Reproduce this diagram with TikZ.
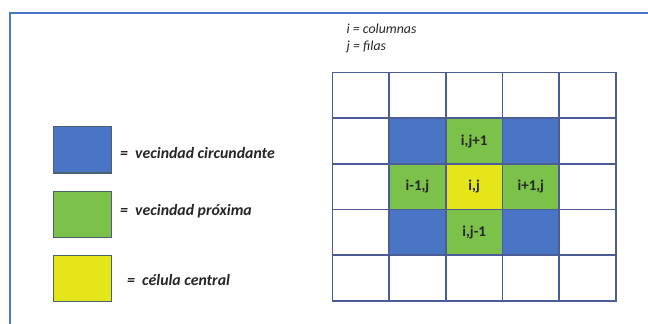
\documentclass[tikz,border=0pt]{standalone}
\usepackage{fontspec}
\setmainfont{Carlito}
\definecolor{frameblue}{HTML}{4A78C8}
\definecolor{cellblue}{HTML}{4A74C4}
\definecolor{cellgreen}{HTML}{7CC24A}
\definecolor{cellyellow}{HTML}{E4E619}
\definecolor{gridline}{HTML}{4C5C96}
\definecolor{legedge}{HTML}{4A6270}
\definecolor{txt}{HTML}{262626}
\begin{document}
\begin{tikzpicture}[x=1pt,y=-1pt,
  cell/.style={draw=gridline,line width=1.6pt,minimum width=56.7pt,minimum height=45.7pt,inner sep=0pt,anchor=north west,font=\fontsize{15}{16}\selectfont\bfseries,text=txt},
  legbox/.style={draw=legedge,line width=1.3pt,minimum width=58pt,minimum height=46.5pt,inner sep=0pt,anchor=north west},
  legtxt/.style={anchor=west,font=\fontsize{15.8}{17}\selectfont\bfseries\itshape,text=txt,inner sep=0pt},
  toptxt/.style={anchor=west,font=\fontsize{13.8}{15}\selectfont\itshape,text=txt,inner sep=0pt}]
\useasboundingbox (0,0) rectangle (648,324);
\fill[white] (0,0) rectangle (648,324);
% frame
\draw[frameblue,line width=2pt] (10,324) -- (10,13) -- (648,13);
% top labels
\node[toptxt] (ti) at (346.5,28.5) {i = columnas};
\node[toptxt] (tj) at (346.5,46.5) {j = filas};
% grid
\foreach \c in {0,...,4}{
  \foreach \r in {0,...,4}{
    \node[cell] (c\c\r) at ({331.7+56.66*\c},{71.7+45.66*\r}) {};
  }
}
\node[cell,fill=cellblue] (n11) at ({331.7+56.66*1},{71.7+45.66*1}) {};
\node[cell,fill=cellgreen] (n21) at ({331.7+56.66*2},{71.7+45.66*1}) {i,j+1};
\node[cell,fill=cellblue] (n31) at ({331.7+56.66*3},{71.7+45.66*1}) {};
\node[cell,fill=cellgreen] (n12) at ({331.7+56.66*1},{71.7+45.66*2}) {i-1,j};
\node[cell,fill=cellyellow] (n22) at ({331.7+56.66*2},{71.7+45.66*2}) {i,j};
\node[cell,fill=cellgreen] (n32) at ({331.7+56.66*3},{71.7+45.66*2}) {i+1,j};
\node[cell,fill=cellblue] (n13) at ({331.7+56.66*1},{71.7+45.66*3}) {};
\node[cell,fill=cellgreen] (n23) at ({331.7+56.66*2},{71.7+45.66*3}) {i,j-1};
\node[cell,fill=cellblue] (n33) at ({331.7+56.66*3},{71.7+45.66*3}) {};
% legend
\node[legbox,fill=cellblue] (lb) at (53,125.7) {};
\node[legbox,fill=cellgreen] (lg) at (53,190.5) {};
\node[legbox,fill=cellyellow] (ly) at (53,254.5) {};
\node[legtxt] (tb) at (120,153) {=\ \ vecindad circundante};
\node[legtxt] (tg) at (120,211.5) {=\ \ vecindad próxima};
\node[legtxt] (ty) at (127,280.5) {=\ \ célula central};
\end{tikzpicture}
\end{document}
